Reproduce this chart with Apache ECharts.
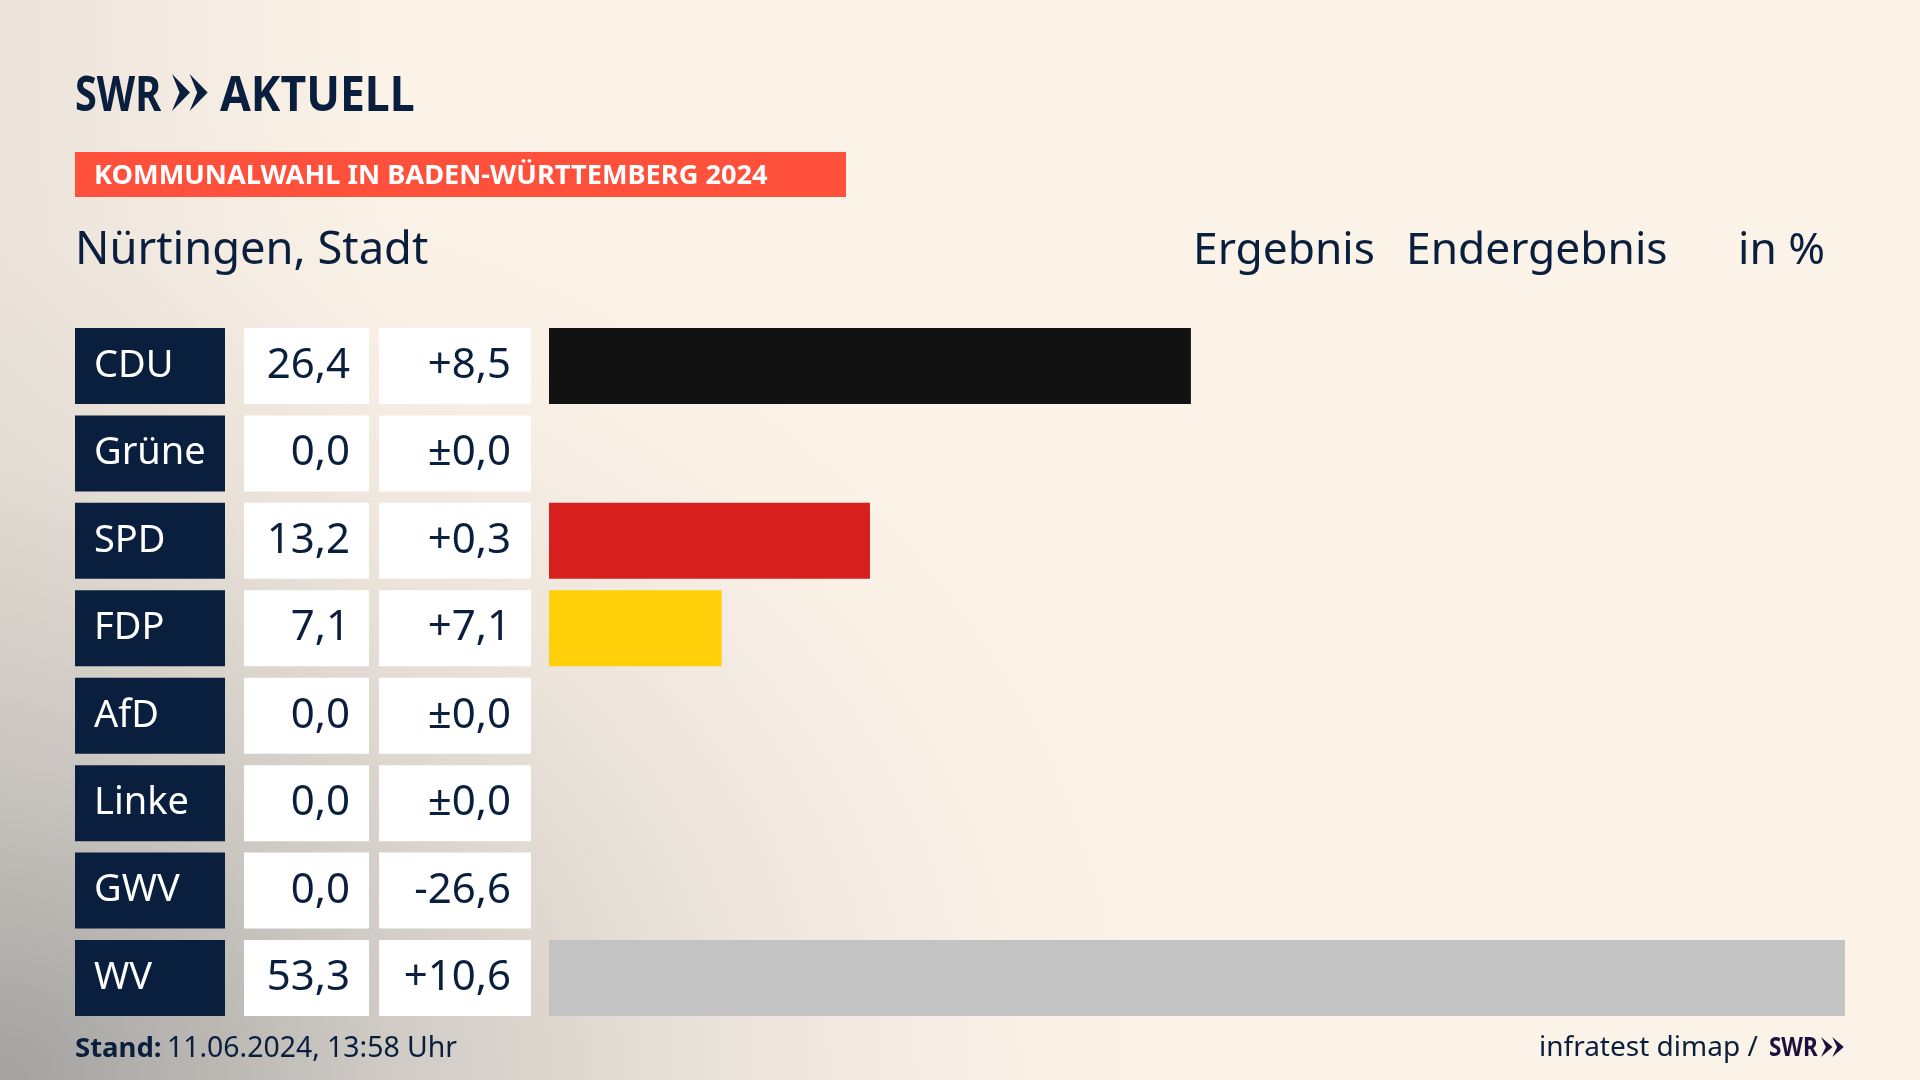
<!DOCTYPE html>
<html lang="de">
<head>
<meta charset="utf-8">
<title>Kommunalwahl Nürtingen</title>
<script src="https://cdn.jsdelivr.net/npm/echarts@6/dist/echarts.min.js"></script>
<style>
  html, body { margin: 0; padding: 0; }
  #chart {
    width: 1920px;
    height: 1080px;
    background-color: #fbf2e8;
    background-image:
      radial-gradient(ellipse 1300px 1050px at 0 100%, rgba(150,150,150,0.85) 0%, rgba(178,176,173,0.6) 30%, rgba(205,200,193,0.3) 58%, rgba(235,227,218,0.1) 80%, rgba(250,241,230,0) 95%),
      linear-gradient(90deg, rgba(190,185,178,0.25) 0, rgba(250,241,230,0) 380px);
  }
</style>
</head>
<body>
<div id="chart"></div>
<script>
const parties = ["CDU", "Grüne", "SPD", "FDP", "AfD", "Linke", "GWV", "WV"];
const shares = [26.4, 0.0, 13.2, 7.1, 0.0, 0.0, 0.0, 53.3];
const changes = [8.5, 0.0, 0.3, 7.1, 0.0, 0.0, -26.6, 10.6];

const partyColors = { CDU: "#121212", SPD: "#d7201e", FDP: "#ffcf0a", WV: "#c3c3c3" };

const NAVY = "#0a1f3d";
const FONT = "'Noto Sans', sans-serif";

function formatShare(value) {
  return value.toFixed(1).replace(".", ",");
}

function formatChange(value) {
  const sign = value > 0 ? "+" : value < 0 ? "-" : "±";
  return sign + Math.abs(value).toFixed(1).replace(".", ",");
}

// the three table columns are plain y axes next to the bars
function cellAxis(offset, align, formatter, color, background, fontSize, width, padding) {
  return {
    type: "category",
    inverse: true,
    data: parties,
    position: "left",
    offset: offset,
    axisLine: { show: false },
    axisTick: { show: false },
    axisLabel: {
      margin: 0,
      interval: 0,
      hideOverlap: false,
      formatter: formatter,
      align: align,
      color: color,
      backgroundColor: background,
      fontFamily: FONT,
      fontSize: fontSize,
      width: width,
      height: 70,
      lineHeight: 70,
      padding: padding
    }
  };
}

function label(text, x, y, fontSize, fill, extra) {
  const { scaleX, ...style } = extra || {};
  return {
    type: "text",
    x: x,
    y: y,
    scaleX: scaleX || 1,
    silent: true,
    style: Object.assign({ text: text, fill: fill, fontFamily: FONT, fontSize: fontSize, verticalAlign: "middle" }, style)
  };
}

// logo arrows, w is the width of one arrow
function chevrons(x, y, w, h, fill) {
  const one = (x0) => ({
    type: "polygon",
    silent: true,
    shape: {
      points: [[x0, y], [x0 + w, y + h / 2], [x0, y + h], [x0 + w * 0.42, y + h / 2]]
    },
    style: { fill: fill }
  });
  return [one(x), one(x + w * 0.98)];
}

const chart = echarts.init(document.getElementById("chart"), null, { renderer: "canvas" });

chart.setOption({
  backgroundColor: "transparent",
  animation: false,
  grid: { left: 549, top: 322.3, width: 1296, height: 699.4 },
  xAxis: { type: "value", min: 0, max: 53.3, show: false },
  yAxis: [
    cellAxis(474, "left", (v, i) => parties[i], "#ffffff", NAVY, 38, 131, [6, 0, 0, 19]),
    cellAxis(180, "right", (v, i) => formatShare(shares[i]), NAVY, "#ffffff", 42, 106, [6, 19, 0, 0]),
    cellAxis(18, "right", (v, i) => formatChange(changes[i]), NAVY, "#ffffff", 42, 132, [6, 20, 0, 0])
  ],
  series: [
    {
      type: "bar",
      yAxisIndex: 0,
      barWidth: 76,
      data: shares.map((value, i) => ({
        value: value,
        itemStyle: { color: partyColors[parties[i]] || NAVY }
      }))
    }
  ],
  graphic: [
    label("SWR", 75, 97, 49, NAVY, { fontWeight: 700, scaleX: 0.81 }),
    ...chevrons(172, 74, 18, 37, NAVY),
    label("AKTUELL", 220, 97, 49, NAVY, { fontWeight: 700, scaleX: 0.91 }),
    { type: "rect", shape: { x: 75, y: 152, width: 771, height: 45 }, style: { fill: "#ff503c" }, silent: true },
    label("KOMMUNALWAHL IN BADEN-WÜRTTEMBERG 2024", 94, 176.5, 27.2, "#ffffff", { fontWeight: 700 }),
    label("Nürtingen, Stadt", 75, 251, 45.3, NAVY),
    label("Ergebnis", 1193, 251, 44.3, NAVY),
    label("Endergebnis", 1406, 251, 44.3, NAVY),
    label("in %", 1738, 251, 44.3, NAVY),
    label("Stand:", 75, 1049, 27.5, NAVY, { fontWeight: 700 }),
    label("11.06.2024, 13:58 Uhr", 167, 1049, 28.4, NAVY),
    label("infratest dimap /", 1539, 1048, 28, NAVY),
    label("SWR", 1769, 1048, 27, "#1f0f3f", { fontWeight: 700, scaleX: 0.83 }),
    ...chevrons(1821, 1037, 11.5, 20, "#1f0f3f")
  ]
});
</script>
</body>
</html>
